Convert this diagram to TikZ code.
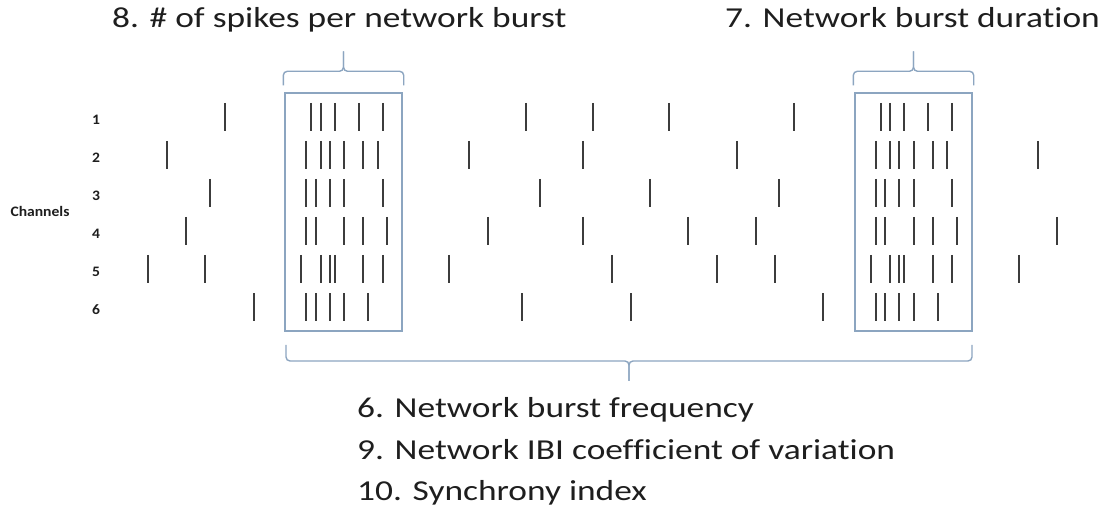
\documentclass[tikz,border=0pt]{standalone}
\usepackage{fontspec}
\setmainfont{Carlito}[Ligatures=NoCommon]
\newcommand{\widetext}[1]{\scalebox{1.225}[1]{#1}}
\newcommand{\widelabel}[1]{\scalebox{1.08}[1]{#1}}
\begin{document}
\begin{tikzpicture}[x=1bp,y=-1bp,
  spike/.style={draw=spikegray,line width=2.3bp},
  burstbox/.style={draw=framegray,line width=1.4bp,minimum width=117bp,minimum height=238bp,inner sep=0pt},
  bracket/.style={draw=framegray,line width=1.4bp,rounded corners=4bp},
  caption/.style={text=textgray,font=\fontsize{29}{34}\selectfont,anchor=base west,inner sep=0pt},
  chlabel/.style={text=textgray,font=\fontsize{14.5}{16}\selectfont\bfseries,inner sep=0pt}]
\definecolor{spikegray}{RGB}{60,60,60}
\definecolor{framegray}{RGB}{140,165,192}
\definecolor{textgray}{RGB}{30,30,30}
\useasboundingbox (0,0) rectangle (1106,511);

% burst windows
\node[burstbox] (burstA) at (343.5,212) {};
\node[burstbox] (burstB) at (913.5,212) {};

% channel labels
\node[chlabel] (chan) at (40,211) {\widelabel{Channels}};
\foreach \n/\yy in {1/117,2/155,3/193,4/231,5/269,6/307.5}
  \node[chlabel,anchor=base] (ch\n) at (96,\yy+7.5) {\widelabel{\n}};

% spike trains, one row per channel
\foreach \yy/\xs in {
  117/{224.7,311.3,320.7,334.7,358.7,382.7,526,592.7,669,794,880.7,890,904,928,952},
  155/{167.3,306,320.7,330,344,363.3,377.7,468.7,583.3,736.7,875.7,890,899.3,913.7,932.7,947,1037.7},
  193/{210.3,306,315.7,330,344.3,382.7,540.3,650,779.3,875.7,885,899.3,913.7,952},
  231/{186.3,306,315.7,344.3,363.3,387.3,487.7,583.3,688.3,755.7,875.7,885,913.7,932.7,956.7,1057.3},
  269/{148.3,205.3,301.3,320.7,330,335,363.3,382.7,449.3,611.7,717.3,775,871,890,899.3,904,932.7,952,1019},
  307.5/{254,306,315.7,330,344.3,368.3,521.7,630.7,823.3,875.7,885,899.3,913.7,937.7}}
  \foreach \xx in \xs
    \draw[spike] (\xx,\yy-14) -- (\xx,\yy+14);

% captions
\node[caption] (capA) at (112,28) {\widetext{8. \# of spikes per network burst}};
\node[caption] (capB) at (725,28) {\widetext{7. Network burst duration}};
\node[caption] (capC) at (357,417) {\widetext{6. Network burst frequency}};
\node[caption] (capD) at (357,459) {\widetext{9. Network IBI coefficient of variation}};
\node[caption] (capE) at (357,500) {\widetext{10. Synchrony index}};

% braces above the burst windows (canvas y points up here)
\coordinate (tipA) at ([yshift=41bp]burstA.north);
\coordinate (tipB) at ([yshift=41bp]burstB.north);
\draw[bracket] ([shift={(-1bp,7bp)}]burstA.north west) -- ([shift={(-1bp,21bp)}]burstA.north west) -- ([yshift=21bp]burstA.north) -- (tipA);
\draw[bracket] ([shift={(1bp,7bp)}]burstA.north east) -- ([shift={(1bp,21bp)}]burstA.north east) -- ([yshift=21bp]burstA.north) -- (tipA);
\draw[bracket] ([shift={(-1bp,7bp)}]burstB.north west) -- ([shift={(-1bp,21bp)}]burstB.north west) -- ([yshift=21bp]burstB.north) -- (tipB);
\draw[bracket] ([shift={(1bp,7bp)}]burstB.north east) -- ([shift={(1bp,21bp)}]burstB.north east) -- ([yshift=21bp]burstB.north) -- (tipB);

% brace spanning the whole recording
\coordinate (lowL) at (286,345);
\coordinate (lowR) at (972,345);
\coordinate (lowMid) at (629,361);
\coordinate (lowTip) at (629,381);
\draw[bracket] (lowL) -- (286,361) -- (lowMid) -- (lowTip);
\draw[bracket] (lowR) -- (972,361) -- (lowMid) -- (lowTip);
\end{tikzpicture}
\end{document}
